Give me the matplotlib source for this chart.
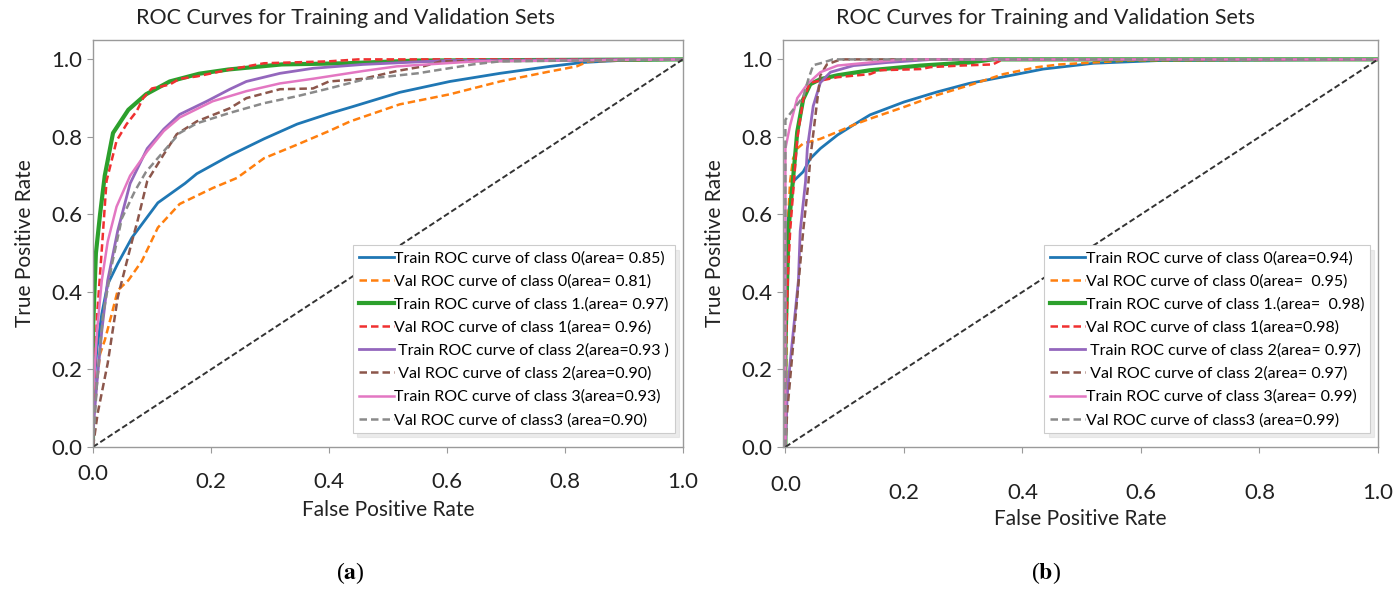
import matplotlib
matplotlib.use("Agg")
import matplotlib.pyplot as plt
from matplotlib.transforms import ScaledTranslation

plt.rcParams["font.family"] = ["Lato", "DejaVu Sans"]
plt.rcParams["mathtext.fontset"] = "stix"

# ---- panel (a) curves: (fpr, tpr) ----
a_train0_fpr = [0, 0, 0.007, 0.015, 0.025, 0.042, 0.066, 0.11, 0.156, 0.176, 0.232, 0.29, 0.346, 0.40, 0.44, 0.52, 0.605, 0.69, 0.775, 0.83, 0.89, 1.0]
a_train0_tpr = [0, 0.13, 0.257, 0.344, 0.42, 0.473, 0.54, 0.630, 0.680, 0.705, 0.752, 0.795, 0.833, 0.860, 0.878, 0.915, 0.943, 0.964, 0.982, 0.992, 0.997, 1.0]
a_val0_fpr = [0, 0, 0.007, 0.012, 0.02, 0.032, 0.042, 0.06, 0.083, 0.11, 0.147, 0.203, 0.244, 0.29, 0.346, 0.40, 0.436, 0.52, 0.605, 0.69, 0.775, 0.82, 0.84, 1.0]
a_val0_tpr = [0, 0.04, 0.17, 0.24, 0.275, 0.344, 0.404, 0.43, 0.48, 0.566, 0.627, 0.668, 0.694, 0.745, 0.78, 0.815, 0.84, 0.884, 0.91, 0.943, 0.969, 0.982, 0.995, 1.0]
a_train1_fpr = [0, 0, 0.005, 0.012, 0.02, 0.034, 0.06, 0.09, 0.13, 0.18, 0.23, 0.32, 0.43, 0.55, 1.0]
a_train1_tpr = [0, 0.3, 0.5, 0.6, 0.7, 0.81, 0.87, 0.91, 0.943, 0.963, 0.974, 0.987, 0.99, 0.997, 1.0]
a_val1_fpr = [0, 0, 0.007, 0.015, 0.023, 0.04, 0.057, 0.074, 0.085, 0.10, 0.13, 0.147, 0.176, 0.232, 0.29, 0.40, 0.45, 1.0]
a_val1_tpr = [0, 0.09, 0.34, 0.51, 0.686, 0.79, 0.833, 0.866, 0.90, 0.925, 0.935, 0.95, 0.956, 0.974, 0.99, 0.995, 1.0, 1.0]
a_train2_fpr = [0, 0, 0.007, 0.015, 0.025, 0.042, 0.063, 0.092, 0.12, 0.147, 0.193, 0.232, 0.26, 0.317, 0.373, 0.458, 0.6, 1.0]
a_train2_tpr = [0, 0.04, 0.17, 0.30, 0.43, 0.558, 0.68, 0.77, 0.82, 0.858, 0.892, 0.923, 0.943, 0.964, 0.977, 0.987, 0.997, 1.0]
a_val2_fpr = [0, 0.008, 0.025, 0.042, 0.066, 0.075, 0.092, 0.12, 0.142, 0.176, 0.232, 0.26, 0.317, 0.373, 0.40, 0.458, 0.515, 0.56, 0.59, 1.0]
a_val2_tpr = [0, 0.087, 0.216, 0.386, 0.53, 0.58, 0.686, 0.755, 0.807, 0.84, 0.874, 0.90, 0.923, 0.925, 0.943, 0.95, 0.97, 0.982, 0.995, 1.0]
a_train3_fpr = [0, 0, 0.007, 0.015, 0.025, 0.04, 0.063, 0.092, 0.12, 0.147, 0.203, 0.26, 0.317, 0.373, 0.458, 0.515, 0.65, 1.0]
a_train3_tpr = [0, 0.13, 0.30, 0.43, 0.53, 0.62, 0.70, 0.763, 0.815, 0.85, 0.892, 0.918, 0.938, 0.95, 0.97, 0.982, 0.995, 1.0]
a_val3_fpr = [0, 0.007, 0.017, 0.032, 0.049, 0.071, 0.09, 0.12, 0.147, 0.176, 0.232, 0.29, 0.346, 0.40, 0.464, 0.55, 0.644, 0.69, 1.0]
a_val3_tpr = [0, 0.17, 0.34, 0.47, 0.59, 0.66, 0.71, 0.763, 0.81, 0.835, 0.862, 0.887, 0.905, 0.925, 0.95, 0.964, 0.987, 0.995, 1.0]

# ---- panel (b) curves ----
b_train0_fpr = [0, 0, 0.005, 0.013, 0.03, 0.042, 0.059, 0.088, 0.115, 0.143, 0.2, 0.256, 0.31, 0.368, 0.435, 0.52, 0.63, 1.0]
b_train0_tpr = [0, 0.5, 0.6, 0.685, 0.71, 0.744, 0.77, 0.805, 0.831, 0.857, 0.89, 0.916, 0.938, 0.955, 0.975, 0.99, 0.997, 1.0]
b_val0_fpr = [0, 0.003, 0.005, 0.008, 0.013, 0.02, 0.03, 0.059, 0.088, 0.115, 0.143, 0.2, 0.256, 0.31, 0.368, 0.425, 0.463, 0.577, 1.0]
b_val0_tpr = [0, 0.43, 0.60, 0.685, 0.744, 0.77, 0.783, 0.795, 0.813, 0.831, 0.847, 0.877, 0.908, 0.933, 0.962, 0.98, 0.987, 0.997, 1.0]
b_train1_fpr = [0, 0, 0.003, 0.005, 0.02, 0.03, 0.042, 0.059, 0.088, 0.143, 0.228, 0.31, 0.35, 1.0]
b_train1_tpr = [0, 0.26, 0.43, 0.557, 0.813, 0.897, 0.936, 0.949, 0.959, 0.972, 0.984, 0.992, 1.0, 1.0]
b_val1_fpr = [0, 0, 0.004, 0.008, 0.02, 0.03, 0.042, 0.088, 0.143, 0.16, 0.228, 0.245, 0.295, 0.35, 0.363, 0.37, 1.0]
b_val1_tpr = [0, 0.2, 0.43, 0.557, 0.795, 0.897, 0.94, 0.954, 0.962, 0.972, 0.975, 0.98, 0.984, 0.987, 0.997, 1.0, 1.0]
b_train2_fpr = [0, 0.003, 0.008, 0.022, 0.025, 0.034, 0.037, 0.047, 0.059, 0.076, 0.115, 0.172, 0.25, 1.0]
b_train2_tpr = [0, 0.13, 0.217, 0.43, 0.557, 0.685, 0.77, 0.88, 0.94, 0.967, 0.984, 0.992, 1.0, 1.0]
b_val2_fpr = [0, 0.003, 0.008, 0.02, 0.03, 0.039, 0.042, 0.054, 0.059, 0.07, 0.088, 0.1, 1.0]
b_val2_tpr = [0, 0.09, 0.174, 0.386, 0.557, 0.685, 0.744, 0.897, 0.959, 0.987, 0.997, 1.0, 1.0]
b_train3_fpr = [0, 0, 0.008, 0.02, 0.037, 0.059, 0.088, 0.143, 0.2, 1.0]
b_train3_tpr = [0, 0.77, 0.83, 0.90, 0.936, 0.967, 0.984, 0.992, 1.0, 1.0]
b_val3_fpr = [0, 0, 0.013, 0.03, 0.039, 0.047, 0.064, 0.08, 1.0]
b_val3_tpr = [0, 0.844, 0.87, 0.903, 0.95, 0.985, 0.992, 1.0, 1.0]

labels_a = [
    "Train ROC curve of class 0(area= 0.85)",
    "Val ROC curve of class 0(area= 0.81)",
    "Train ROC curve of class 1.(area= 0.97)",
    "Val ROC curve of class 1(area= 0.96)",
    " Train ROC curve of class 2(area=0.93 )",
    " Val ROC curve of class 2(area=0.90)",
    "Train ROC curve of class 3(area=0.93)",
    "Val ROC curve of class3 (area=0.90)",
]
labels_b = [
    "Train ROC curve of class 0(area=0.94)",
    "Val ROC curve of class 0(area=  0.95)",
    "Train ROC curve of class 1.(area=  0.98)",
    "Val ROC curve of class 1(area=0.98)",
    " Train ROC curve of class 2(area= 0.97)",
    " Val ROC curve of class 2(area= 0.97)",
    "Train ROC curve of class 3(area= 0.99)",
    "Val ROC curve of class3 (area=0.99)",
]
tick_values = [0.0, 0.2, 0.4, 0.6, 0.8, 1.0]

colors = ["#1f77b4", "#ff7f0e", "#2ca02c", "#f03030", "#9467bd", "#8c564b", "#e377c2", "#8a8a8a"]
styles = ["-", "--", "-", "--", "-", "--", "-", "--"]
widths = [2.0, 1.8, 3.0, 1.8, 2.0, 1.8, 1.8, 1.8]


def draw_panel(ax, curves, labels, xlim, xpad):
    for (fpr, tpr), lab, c, ls, lw in zip(curves, labels, colors, styles, widths):
        ax.plot(fpr, tpr, ls, color=c, lw=lw, label=lab, dashes=(3, 1.6) if ls == "--" else (None, None))
    ax.plot([0, 1], [0, 1], "--", color="#333333", lw=1.4, dashes=(3, 1.5))
    ax.set_xlim(*xlim)
    ax.set_ylim(0, 1.05)
    ax.set_xticks(tick_values)
    ax.set_yticks(tick_values)
    ax.set_xticklabels([f"{v:.1f}" for v in tick_values])
    ax.set_yticklabels([f"{v:.1f}" for v in tick_values])
    for s in ax.spines.values():
        s.set_color("#9a9a9a")
        s.set_linewidth(1.0)
    ax.tick_params(colors="#9a9a9a", labelcolor="#222222", labelsize=16, length=4)
    ax.tick_params(axis="x", pad=xpad)
    ax.set_ylabel("True Positive Rate", fontsize=15, color="#222222", labelpad=12)
    leg = ax.legend(loc="lower right", bbox_to_anchor=(1.0, 0.015), fontsize=11.5,
                    handlelength=2.2, handletextpad=0.05, labelspacing=0.55,
                    borderpad=0.35, fancybox=False, framealpha=1,
                    shadow={"color": "#d8d8d8", "ox": 3, "oy": -3})
    leg.get_frame().set_edgecolor("#cccccc")
    leg.get_frame().set_linewidth(0.8)
    # the "0.0" x label sits a bit higher than the others in the source figure
    first = ax.get_xticklabels()[0]
    first.set_transform(first.get_transform() + ScaledTranslation(0, 6 / 72, ax.figure.dpi_scale_trans))


fig = plt.figure(figsize=(14, 5.9), dpi=100)
ax_a = fig.add_axes([0.0664, 0.2424, 0.4214, 0.6898])
ax_b = fig.add_axes([0.5593, 0.2424, 0.4250, 0.6898])

curves_a = [(a_train0_fpr, a_train0_tpr), (a_val0_fpr, a_val0_tpr), (a_train1_fpr, a_train1_tpr),
            (a_val1_fpr, a_val1_tpr), (a_train2_fpr, a_train2_tpr), (a_val2_fpr, a_val2_tpr),
            (a_train3_fpr, a_train3_tpr), (a_val3_fpr, a_val3_tpr)]
curves_b = [(b_train0_fpr, b_train0_tpr), (b_val0_fpr, b_val0_tpr), (b_train1_fpr, b_train1_tpr),
            (b_val1_fpr, b_val1_tpr), (b_train2_fpr, b_train2_tpr), (b_val2_fpr, b_val2_tpr),
            (b_train3_fpr, b_train3_tpr), (b_val3_fpr, b_val3_tpr)]

draw_panel(ax_a, curves_a, labels_a, (0, 1.0), 14)
draw_panel(ax_b, curves_b, labels_b, (-0.004, 1.0), 22)
ax_a.set_xlabel("False Positive Rate", fontsize=15, color="#222222", labelpad=6)
ax_b.set_xlabel("False Positive Rate", fontsize=15, color="#222222", labelpad=4)

fig.text(346 / 1400, 1 - 18 / 590, "ROC Curves for Training and Validation Sets",
         ha="center", va="center", fontsize=15.5, color="#222222")
fig.text(1046 / 1400, 1 - 18 / 590, "ROC Curves for Training and Validation Sets",
         ha="center", va="center", fontsize=15.5, color="#222222")
fig.text(350 / 1400, 1 - 573 / 590, r"($\mathbf{a}$)", ha="center", va="center",
         fontsize=17, family="Liberation Serif")
fig.text(1046 / 1400, 1 - 573 / 590, r"($\mathbf{b}$)", ha="center", va="center",
         fontsize=17, family="Liberation Serif")

fig.savefig("out.png", dpi=100)
